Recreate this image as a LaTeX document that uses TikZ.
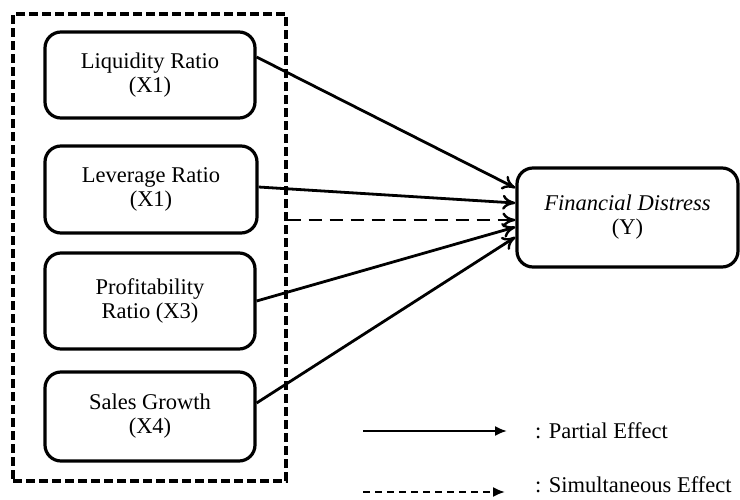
\documentclass[tikz,border=0pt]{standalone}
\usepackage{fontspec}
\setmainfont{Liberation Serif}
\usetikzlibrary{arrows.meta,calc}
\begin{document}
\begin{tikzpicture}[x=1pt,y=-1pt,
  varbox/.style={draw,line width=3.2pt,rounded corners=16pt,align=center,
    font=\fontsize{22.5}{24}\selectfont,inner sep=0pt},
  effect/.style={line width=2.8pt,-{To[length=13pt,width=15pt,line width=2.4pt]}},
  legline/.style={line width=2pt,-{Latex[length=12pt,width=10pt]}},
  legtext/.style={anchor=west,font=\fontsize{22.5}{24}\selectfont,inner sep=0pt}]
\useasboundingbox (0,0) rectangle (740,499);
\node[draw,line width=3.4pt,dash pattern=on 9pt off 4pt,minimum width=273pt,minimum height=467pt] (grp) at (149.5,247.5) {};
\node[varbox,minimum width=210pt,minimum height=86pt] (l1) at (150,75) {Liquidity Ratio\\(X1)};
\node[varbox,minimum width=212pt,minimum height=87pt] (l2) at (151,189.5) {Leverage Ratio\\(X1)};
\node[varbox,minimum width=210pt,minimum height=96pt] (l3) at (150,301) {Profitability\\Ratio (X3)};
\node[varbox,minimum width=210pt,minimum height=89pt] (l4) at (150,416.5) {Sales Growth\\(X4)};
\node[varbox,minimum width=221pt,minimum height=99pt] (fd) at (627.5,217.5) {\textit{Financial Distress}\\(Y)};
\draw[effect] ($(l1.east)+(0,18pt)$) -- ($(fd.west)+(0,29.5pt)$);
\draw[effect] ($(l2.east)+(0,2.5pt)$) -- ($(fd.west)+(0,14.5pt)$);
\coordinate (dt) at ($(fd.west)+(0,-2.5pt)$);
\draw[effect,dash pattern=on 13pt off 8pt] (grp.east |- dt) -- (dt);
\draw[effect] (l3.east) -- ($(fd.west)+(0,-9.5pt)$);
\draw[effect] ($(l4.east)+(0,13.5pt)$) -- ($(fd.west)+(0,-19.5pt)$);
\coordinate (pa) at (363,431);
\coordinate (pb) at (507,431);
\node[legtext] (pt) at (535,431) {: Partial Effect};
\draw[legline] (pa) -- (pb);
\coordinate (sa) at (363,492);
\coordinate (sb) at (505,492);
\node[legtext] (st) at (535,485) {: Simultaneous Effect};
\draw[legline,dash pattern=on 7pt off 5pt] (sa) -- (sb);
\end{tikzpicture}
\end{document}
